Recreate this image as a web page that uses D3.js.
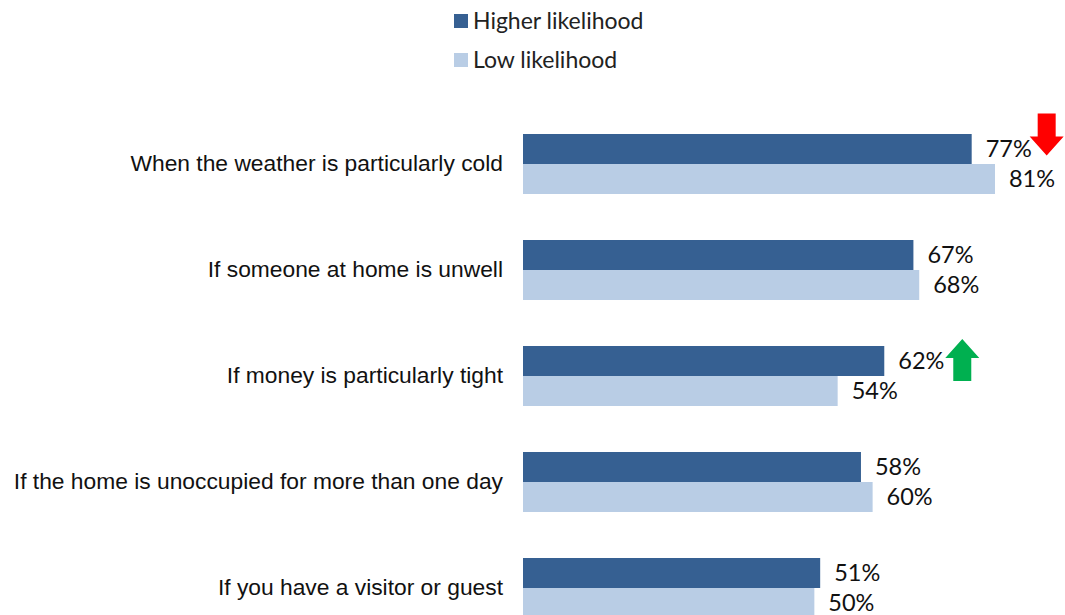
<!DOCTYPE html>
<html>
<head>
<meta charset="utf-8">
<script src="https://cdn.jsdelivr.net/npm/d3@7"></script>
<style>
  html, body { margin: 0; padding: 0; background: #fff; }
  svg { display: block; }
</style>
</head>
<body>
<svg id="chart" width="1065" height="615"></svg>
<script>
// Situations and the share of respondents in each likelihood group
const categories = [
  "When the weather is particularly cold",
  "If someone at home is unwell",
  "If money is particularly tight",
  "If the home is unoccupied for more than one day",
  "If you have a visitor or guest"
];
const seriesNames = ["Higher likelihood", "Low likelihood"];
const higherValues = [77, 67, 62, 58, 51];
const lowValues = [81, 68, 54, 60, 50];
// Change markers shown beside the "Higher likelihood" value: -1 down, +1 up, 0 none
const changeMarks = [-1, 0, 1, 0, 0];

const colors = ["#366092", "#B9CDE5"];
const labelFont = "'Liberation Sans', Arial, sans-serif";
const valueFont = "Lato, 'Open Sans', sans-serif";

const svg = d3.select("#chart");

const step = 106, padInner = 0.434;
const x = d3.scaleLinear().domain([0, 100]).range([523, 523 + 582.7]);
const y = d3.scaleBand().domain(categories)
  .range([134, 134 + step * (categories.length - padInner)])
  .paddingInner(padInner).paddingOuter(0).align(0);
const ySub = d3.scaleBand().domain(seriesNames).range([0, y.bandwidth()]);

const rows = categories.map((c, i) => ({
  category: c,
  values: [higherValues[i], lowValues[i]],
  mark: changeMarks[i]
}));

// Legend
const legend = svg.append("g");
seriesNames.forEach((name, i) => {
  const g = legend.append("g").attr("transform", `translate(454, ${14 + i * 39})`);
  g.append("rect").attr("width", 14).attr("height", 14).attr("fill", colors[i]);
  g.append("text").attr("x", 19).attr("y", 7).attr("dy", "0.35em")
    .attr("font-family", valueFont).attr("font-size", 23).attr("fill", "#222")
    .text(name);
});

// Category labels
svg.append("g").selectAll("text").data(rows).join("text")
  .attr("x", 503)
  .attr("y", d => y(d.category) + y.bandwidth() / 2 - 1)
  .attr("dy", "0.35em")
  .attr("text-anchor", "end")
  .attr("font-family", labelFont)
  .attr("font-size", 22.8)
  .attr("fill", "#111")
  .text(d => d.category);

// Bars and value labels
const groups = svg.append("g").selectAll("g").data(rows).join("g")
  .attr("transform", d => `translate(0, ${y(d.category)})`);

groups.selectAll("rect").data(d => d.values.map((v, i) => ({ v, s: seriesNames[i], i })))
  .join("rect")
  .attr("x", x(0))
  .attr("y", d => ySub(d.s))
  .attr("width", d => x(d.v) - x(0))
  .attr("height", ySub.bandwidth())
  .attr("fill", d => colors[d.i]);

groups.selectAll("text.val").data(d => d.values.map((v, i) => ({ v, s: seriesNames[i], i })))
  .join("text")
  .attr("class", "val")
  .attr("x", d => x(d.v) + 14)
  .attr("y", d => ySub(d.s) + ySub.bandwidth() / 2)
  .attr("dy", "0.35em")
  .attr("font-family", valueFont)
  .attr("font-size", 23.5)
  .attr("fill", "#111")
  .text(d => d.v + "%");

// Change arrows next to the first value label
function arrowPath(dir) {
  // block arrow pointing down (dir -1) or up (dir +1), centred at 0, 0
  const sw = 9, hw = 17, h = 42, head = 19;
  const pts = dir < 0
    ? [[-sw, -h / 2], [sw, -h / 2], [sw, h / 2 - head], [hw, h / 2 - head], [0, h / 2], [-hw, h / 2 - head], [-sw, h / 2 - head]]
    : [[-sw, h / 2], [sw, h / 2], [sw, -h / 2 + head], [hw, -h / 2 + head], [0, -h / 2], [-hw, -h / 2 + head], [-sw, -h / 2 + head]];
  return "M" + pts.map(p => p.join(",")).join("L") + "Z";
}
groups.filter(d => d.mark !== 0).append("path")
  .attr("transform", d => d.mark < 0
    ? `translate(${x(d.values[0]) + 75}, 0.5)`
    : `translate(${x(d.values[0]) + 78}, 14)`)
  .attr("d", d => arrowPath(d.mark))
  .attr("fill", d => d.mark < 0 ? "#FF0000" : "#00B050");
</script>
</body>
</html>
